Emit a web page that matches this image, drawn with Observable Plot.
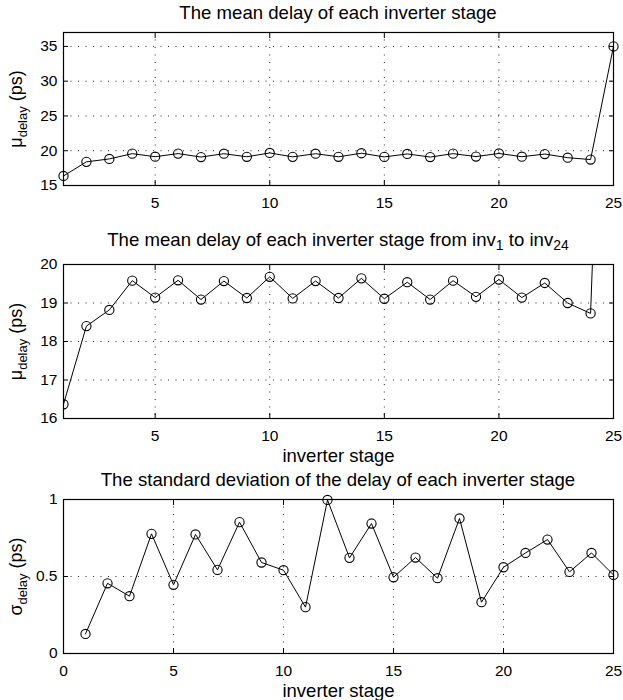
<!DOCTYPE html>
<html>
<head>
<meta charset="utf-8">
<script src="https://cdn.jsdelivr.net/npm/d3@7"></script>
<script src="https://cdn.jsdelivr.net/npm/@observablehq/plot@0.6"></script>
<style>
  body { margin: 0; background: #fff; font-family: "Liberation Sans", Arial, Helvetica, sans-serif; }
  #wrap { position: relative; width: 623px; height: 700px; overflow: hidden; }
  .title { position: absolute; left: 63px; width: 550px; text-align: center; font-size: 18.6px; line-height: 18px; color: #000; white-space: nowrap; }
  .title sub { font-size: 0.75em; line-height: 0; vertical-align: -0.3em; }
  .panel { position: absolute; left: 0; }
</style>
</head>
<body>
<div id="wrap"></div>
<script>
// ---- data ----
const stages = [1, 2, 3, 4, 5, 6, 7, 8, 9, 10, 11, 12, 13, 14, 15, 16, 17, 18, 19, 20, 21, 22, 23, 24, 25];
const meanDelay = [16.37, 18.40, 18.82, 19.58, 19.14, 19.59, 19.09, 19.57, 19.13, 19.68, 19.12, 19.57, 19.13,
                   19.64, 19.11, 19.54, 19.09, 19.58, 19.16, 19.61, 19.14, 19.52, 19.00, 18.73, 35.0];
const stdDelay = [0.127, 0.456, 0.372, 0.777, 0.446, 0.773, 0.543, 0.853, 0.591, 0.541, 0.301, 0.997, 0.621,
                  0.844, 0.495, 0.623, 0.489, 0.877, 0.333, 0.560, 0.653, 0.740, 0.530, 0.653, 0.510];

const titles = [
  "The mean delay of each inverter stage",
  "The mean delay of each inverter stage from inv<sub>1</sub> to inv<sub>24</sub>",
  "The standard deviation of the delay of each inverter stage"
];
const xLabel = "inverter stage";

const xTicksMean = [5, 10, 15, 20, 25];
const yTicksMean = [15, 20, 25, 30, 35];
const yTicksZoom = [16, 17, 18, 19, 20];
const xTicksStd = [0, 5, 10, 15, 20, 25];
const yTicksStd = [0, 0.5, 1];
const xGrid = [5, 10, 15, 20];
const yGridMean = [20, 25, 30, 35];
const yGridZoom = [17, 18, 19];
const yGridStd = [0.5];

const rows = stages.map((s, i) => ({stage: s, mean: meanDelay[i], std: stdDelay[i]}));

const wrap = document.getElementById("wrap");

function addTitle(html, top) {
  const d = document.createElement("div");
  d.className = "title";
  d.style.top = top + "px";
  d.innerHTML = html;
  wrap.appendChild(d);
}

const gridStyle = {stroke: "#000", strokeOpacity: 0.85, strokeWidth: 1, strokeDasharray: "1,6.5"};

function makePanel(cfg) {
  const svg = Plot.plot({
    width: 623,
    height: cfg.height,
    marginLeft: 63,
    marginRight: 10,
    marginTop: 8,
    marginBottom: cfg.marginBottom,
    style: {fontFamily: "'Liberation Sans', Arial, Helvetica, sans-serif", fontSize: "15.5px", color: "#000", background: "transparent", overflow: "visible"},
    x: {domain: cfg.xDomain},
    y: {domain: cfg.yDomain},
    marks: [
      Plot.gridX(xGrid, gridStyle),
      Plot.gridY(cfg.yGrid, gridStyle),
      Plot.line(rows, {x: "stage", y: cfg.key, stroke: "#000", strokeWidth: 1, clip: cfg.clip}),
      Plot.dot(rows, {x: "stage", y: cfg.key, r: 4.6, stroke: "#000", strokeWidth: 1.1, fill: "none", clip: cfg.clip}),
      Plot.frame({stroke: "#000", strokeWidth: 1.2}),
      Plot.axisX(cfg.xTicks, {anchor: "bottom", tickSize: -5, tickPadding: 16, tickFormat: d => String(d),
        label: cfg.xLabel, labelAnchor: "center", labelOffset: 43, labelArrow: "none"}),
      Plot.axisX(cfg.xTicks, {anchor: "top", tickSize: -5, tickFormat: () => "", label: null}),
      Plot.axisY(cfg.yTicks, {anchor: "left", tickSize: -5, tickPadding: 11, tickFormat: d => String(d),
        label: cfg.yMain + cfg.ySub + " (ps)", labelAnchor: "center", labelOffset: 54, labelArrow: "none"}),
      Plot.axisY(cfg.yTicks, {anchor: "right", tickSize: -5, tickFormat: () => "", label: null})
    ]
  });
  // rich y label with subscript
  const yl = d3.select(svg).select('g[aria-label="y-axis label"] text');
  if (!yl.empty()) {
    yl.attr("font-size", "18px").text(null);
    yl.append("tspan").text(cfg.yMain);
    yl.append("tspan").attr("font-size", "13px").attr("dy", "5px").text(cfg.ySub);
    yl.append("tspan").attr("dy", "-5px").text(" (ps)");
  }
  d3.select(svg).selectAll('g[aria-label="x-axis label"] text').attr("font-size", "18.5px");
  svg.classList.add("panel");
  svg.style.top = cfg.top + "px";
  wrap.appendChild(svg);
}

addTitle(titles[0], 4);
makePanel({key: "mean", top: 24, height: 191, marginBottom: 30, xDomain: [1, 25], yDomain: [15, 37],
  xTicks: xTicksMean, yTicks: yTicksMean, yGrid: yGridMean, clip: false, xLabel: null, yMain: "μ", ySub: "delay"});

addTitle(titles[1], 231);
makePanel({key: "mean", top: 256, height: 212, marginBottom: 50, xDomain: [1, 25], yDomain: [16, 20],
  xTicks: xTicksMean, yTicks: yTicksZoom, yGrid: yGridZoom, clip: true, xLabel: xLabel, yMain: "μ", ySub: "delay"});

addTitle(titles[2], 471);
makePanel({key: "std", top: 491, height: 208, marginBottom: 46, xDomain: [0, 25], yDomain: [0, 1],
  xTicks: xTicksStd, yTicks: yTicksStd, yGrid: yGridStd, clip: false, xLabel: xLabel, yMain: "σ", ySub: "delay"});
</script>
</body>
</html>
